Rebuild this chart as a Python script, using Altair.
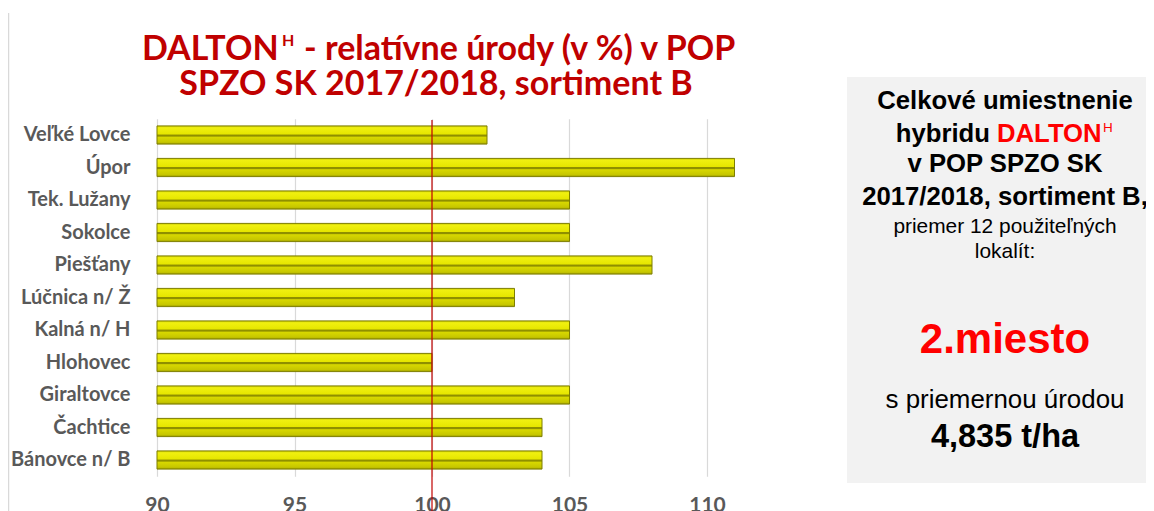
import altair as alt
import pandas as pd

# ---- data ----
locations = ["Veľké Lovce", "Úpor", "Tek. Lužany", "Sokolce", "Piešťany", "Lúčnica n/ Ž",
             "Kalná n/ H", "Hlohovec", "Giraltovce", "Čachtice", "Bánovce n/ B"]
rel_yield = [102, 111, 105, 105, 108, 103, 105, 100, 105, 104, 104]
x_ticks = [90, 95, 100, 105, 110]
reference = [100]

df = pd.DataFrame({"loc": locations, "val": rel_yield})
ref_df = pd.DataFrame({"ref": reference})

# ---- layout (page coords -> plot coords) ----
PX0, PY0 = 157, 118.75
W, H = 605, 357.5
def px(x):
    return x - PX0
def py(y):
    return y - PY0

one = alt.Data(values=[{}])

def txt(text, x, y, size, color="#000000", weight="normal", align="center", font="Liberation Sans"):
    return alt.Chart(one).mark_text(
        text=text, align=align, baseline="alphabetic", fontSize=size,
        font=font, fontWeight=weight, color=color
    ).encode(x=alt.value(px(x)), y=alt.value(py(y)))

grad = alt.Gradient(
    gradient="linear", x1=0, x2=0, y1=0, y2=1,
    stops=[
        alt.GradientStop(color="#c4c400", offset=0.0),
        alt.GradientStop(color="#f0f010", offset=0.1),
        alt.GradientStop(color="#e6e600", offset=0.45),
        alt.GradientStop(color="#8f8f00", offset=0.5),
        alt.GradientStop(color="#8f8f00", offset=0.56),
        alt.GradientStop(color="#d8d800", offset=0.62),
        alt.GradientStop(color="#c6c600", offset=0.9),
        alt.GradientStop(color="#979700", offset=1.0),
    ],
)

xscale = alt.Scale(domain=[90, 112], nice=False, zero=False)

bars = alt.Chart(df).mark_bar(color=grad, stroke="#7f7f00", strokeWidth=1).encode(
    y=alt.Y("loc:N", sort=locations,
            scale=alt.Scale(paddingInner=0.44, paddingOuter=0.22),
            axis=alt.Axis(title=None, ticks=False, domain=False, grid=False,
                          labelFont="Lato", labelFontWeight="bold", labelFontSize=20,
                          labelColor="#595959", labelPadding=27)),
    x=alt.X("val:Q", scale=xscale,
            axis=alt.Axis(title=None, values=x_ticks, ticks=False, domain=False, grid=True,
                          gridColor="#d9d9d9", gridWidth=1.2, labelFlush=False,
                          labelFont="Lato", labelFontWeight="bold", labelFontSize=21,
                          labelColor="#595959", labelPadding=18)),
    x2=alt.X2(datum=90),
)

ref_rule = alt.Chart(ref_df).mark_rule(color="#c00000", strokeWidth=1.2).encode(
    x=alt.X("ref:Q", scale=xscale),
    y=alt.value(py(120)), y2=alt.value(py(515)),
)

panel = alt.Chart(one).mark_rect(color="#f2f2f2").encode(
    x=alt.value(px(847)), x2=alt.value(px(1146)),
    y=alt.value(py(77)), y2=alt.value(py(483)),
)

border = alt.Chart(one).mark_rule(color="#d9d9d9", strokeWidth=1.5).encode(
    x=alt.value(px(8.5)), y=alt.value(py(13)), y2=alt.value(py(515)),
)

TC = "#c00000"
title_layers = [
    txt("DALTON", 142, 60, 34, TC, "bold", "left", "Lato"),
    txt("H", 282, 46, 16, TC, "bold", "left", "Lato"),
    txt("- relatívne úrody (v %) v POP", 304, 60, 34, TC, "bold", "left", "Lato"),
    txt("SPZO SK 2017/2018, sortiment B", 436, 95, 34, TC, "bold", "center", "Lato"),
]

CX = 1005
panel_layers = [
    txt("Celkové umiestnenie", CX, 109, 25.7, "#000000", "bold"),
    txt("hybridu", 990, 142, 25.7, "#000000", "bold", "right"),
    txt("DALTON", 997, 142, 25.7, "#ff0000", "bold", "left"),
    txt("H", 1103, 132, 13.5, "#ff0000", "normal", "left"),
    txt("v POP SPZO SK", CX, 172, 25.7, "#000000", "bold"),
    txt("2017/2018, sortiment B,", CX, 205, 25.7, "#000000", "bold"),
    txt("priemer 12 použiteľných", CX, 233, 20.9, "#000000", "normal"),
    txt("lokalít:", CX, 258, 20.9, "#000000", "normal"),
    txt("2.miesto", CX, 353, 42, "#ff0000", "bold"),
    txt("s priemernou úrodou", CX, 408, 25.9, "#000000", "normal"),
    txt("4,835 t/ha", CX, 447, 32.5, "#000000", "bold"),
]

chart = alt.layer(panel, border, bars, ref_rule, *title_layers, *panel_layers).properties(
    width=W, height=H,
    autosize=alt.AutoSizeParams(type="none"),
    padding={"left": 149, "top": 110.75, "right": 384, "bottom": 34.75},
).configure_view(stroke=None)

chart.save("out.html", embed_options={"renderer": "svg", "actions": False})
